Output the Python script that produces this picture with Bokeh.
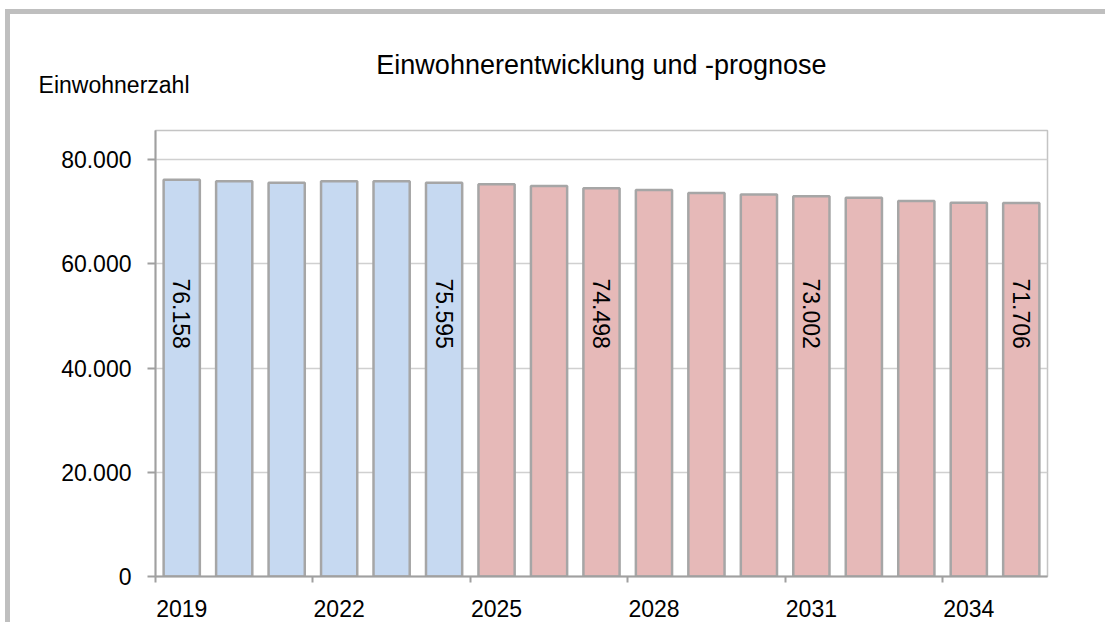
import math
from bokeh.plotting import figure
from bokeh.models import Range1d, FixedTicker, LinearAxis
from bokeh.embed import file_html
from bokeh.resources import INLINE
from bokeh.core.properties import value

# ---------------- data ----------------
years_ist = [2019, 2020, 2021, 2022, 2023, 2024]
values_ist = [76158, 75850, 75570, 75850, 75880, 75595]

years_prog = [2025, 2026, 2027, 2028, 2029, 2030, 2031, 2032, 2033, 2034, 2035]
values_prog = [75270, 74950, 74498, 74200, 73600, 73300, 73002, 72680, 72050, 71750, 71706]

label_years = [2019, 2024, 2027, 2031, 2035]
x_tick_years = [2019, 2022, 2025, 2028, 2031, 2034]
y_ticks = [0, 20000, 40000, 60000, 80000]

title_text = "Einwohnerentwicklung und -prognose"
y_title = "Einwohnerzahl"

# ---------------- styling ----------------
FONT = "Liberation Sans"
BLUE = "#c6d9f1"
PINK = "#e6b9b8"
BAR_LINE = "#a6a6a6"
AXIS = "#a0a0a0"
GRID = "#d0d0d0"
LABEL_Y = 57200

W, H = 1100, 613
BL, BR, BT, BB = 145, 63, 116, 51
TITLE_X = BL + (W - BL - BR) // 2   # header text anchors, canvas pixels
YTITLE_RIGHT = 179


def fmt(v):
    return f"{v:,}".replace(",", ".")


all_years = years_ist + years_prog
all_values = values_ist + values_prog
lookup = dict(zip(all_years, all_values))
label_values = [lookup[y] for y in label_years]
label_texts = [fmt(v) for v in label_values]

p = figure(
    width=W, height=H,
    output_backend="svg", toolbar_location=None, title_location=None,
    x_range=Range1d(all_years[0] - 0.5, all_years[-1] + 0.5),
    y_range=Range1d(0, 85600),
    min_border_left=BL, min_border_right=BR,
    min_border_top=BT, min_border_bottom=BB,
    background_fill_color="white", border_fill_color="white",
    styles={"border-left": "5px solid #bfbfbf", "border-top": "5px solid #bfbfbf",
            "margin-left": "5px", "margin-top": "9px"},
)
p.extra_x_ranges = {"px": Range1d(BL, W - BR)}

p.outline_line_color = "#c4c4c4"
p.outline_line_width = 1.5

# bars
p.vbar(x=years_ist, top=values_ist, width=0.69, fill_color=BLUE,
       line_color=BAR_LINE, line_width=2.5)
p.vbar(x=years_prog, top=values_prog, width=0.69, fill_color=PINK,
       line_color=BAR_LINE, line_width=2.5)

# data labels
p.text(x=label_years, y=[LABEL_Y] * len(label_years), text=label_texts,
       angle=-math.pi / 2, text_align="left", text_baseline="middle",
       text_font=value(FONT), text_font_size="23px", text_color="black")

# x axis
xa = p.xaxis[0]
xa.ticker = FixedTicker(ticks=x_tick_years, minor_ticks=[y - 0.5 for y in x_tick_years])
xa.major_tick_line_color = None
xa.major_tick_out = 6
xa.major_tick_in = 0
xa.minor_tick_line_color = AXIS
xa.minor_tick_line_width = 2
xa.minor_tick_out = 6
xa.minor_tick_in = 0
xa.axis_line_color = AXIS
xa.axis_line_width = 2
xa.major_label_standoff = 17
xa.major_label_text_font = FONT
xa.major_label_text_font_size = "23px"
xa.major_label_text_color = "black"

# y axis
ya = p.yaxis[0]
ya.ticker = FixedTicker(ticks=y_ticks, minor_ticks=[])
ya.major_label_overrides = {v: fmt(v) for v in y_ticks}
ya.major_tick_line_color = AXIS
ya.major_tick_line_width = 2
ya.major_tick_out = 8
ya.major_tick_in = 0
ya.minor_tick_line_color = None
ya.axis_line_color = AXIS
ya.axis_line_width = 2
ya.major_label_standoff = 16
ya.major_label_text_font = FONT
ya.major_label_text_font_size = "23px"
ya.major_label_text_color = "black"

p.xgrid.visible = False
p.ygrid.grid_line_color = GRID
p.ygrid.grid_line_width = 1.5

plain = dict(x_range_name="px", axis_line_color=None, major_tick_line_color=None,
             minor_tick_line_color=None, major_tick_out=0, major_tick_in=0,
             minor_tick_out=0, minor_tick_in=0)

# y-axis title: right-aligned tick label of a header axis (closest to frame)
ax_y = LinearAxis(ticker=FixedTicker(ticks=[YTITLE_RIGHT], minor_ticks=[]),
                  major_label_overrides={YTITLE_RIGHT: y_title},
                  major_label_orientation=-1e-6,
                  major_label_standoff=45, major_label_text_font=FONT,
                  major_label_text_font_size="23px", major_label_text_color="black",
                  **plain)
p.add_layout(ax_y, "above")

# chart title: tick label of an outer header axis
ax_t = LinearAxis(ticker=FixedTicker(ticks=[TITLE_X], minor_ticks=[]),
                  major_label_overrides={TITLE_X: title_text},
                  major_label_standoff=-23, major_label_text_font=FONT,
                  major_label_text_font_size="27px", major_label_text_color="black",
                  **plain)
p.add_layout(ax_t, "above")

open("out.html", "w").write(file_html(p, INLINE))
